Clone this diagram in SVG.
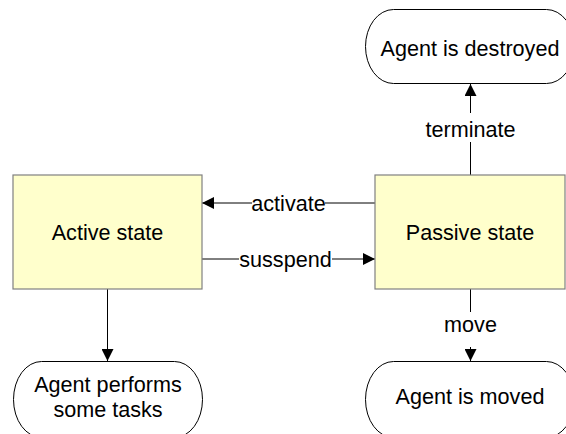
<svg xmlns="http://www.w3.org/2000/svg" width="566" height="434" viewBox="0 0 566 434">
  <style>
    text { font-family: "Liberation Sans", Arial, sans-serif; font-size: 21.6px; fill: #000; text-anchor: middle; }
    .state { fill: #FFFFCC; stroke: #808080; stroke-width: 1.2; }
    .term { fill: #fff; stroke: #000; stroke-width: 1; }
    .conn { stroke: #000; stroke-width: 1; fill: none; }
    .lblbg { fill: #fff; }
  </style>
  <defs>
    <marker id="arrow" viewBox="0 0 12 12" refX="12" refY="6" markerWidth="12" markerHeight="12" markerUnits="userSpaceOnUse" orient="auto">
      <path d="M0,0 L12,6 L0,12 Z" fill="#000"/>
    </marker>
  </defs>
  <rect width="566" height="434" fill="#fff"/>

  <g id="connectors">
    <line class="conn" x1="375" y1="203" x2="202" y2="203" marker-end="url(#arrow)"/>
    <line class="conn" x1="202" y1="259" x2="375" y2="259" marker-end="url(#arrow)"/>
    <line class="conn" x1="470.5" y1="175" x2="470.5" y2="84" marker-end="url(#arrow)"/>
    <line class="conn" x1="470.5" y1="289" x2="470.5" y2="361" marker-end="url(#arrow)"/>
    <line class="conn" x1="107.5" y1="289" x2="107.5" y2="361" marker-end="url(#arrow)"/>
    <rect class="lblbg" x="252" y="193" width="73" height="20"/>
    <text x="288.5" y="211">activate</text>
    <rect class="lblbg" x="239" y="249" width="93" height="21"/>
    <text x="285.5" y="267">susspend</text>
    <rect class="lblbg" x="423" y="113" width="95" height="29"/>
    <text x="470.5" y="136.5">terminate</text>
    <rect class="lblbg" x="440" y="312" width="61" height="35"/>
    <text x="470.5" y="331.5">move</text>
  </g>

  <g id="active-state">
    <rect class="state" x="13" y="175" width="189" height="114"/>
    <text x="107.5" y="240">Active state</text>
  </g>

  <g id="passive-state">
    <rect class="state" x="375" y="175" width="190" height="114"/>
    <text x="470" y="240">Passive state</text>
  </g>

  <g id="agent-destroyed">
    <rect class="term" x="365.5" y="9.5" width="209" height="74" rx="28" ry="37"/>
    <text x="470" y="56">Agent is destroyed</text>
  </g>

  <g id="agent-performs">
    <rect class="term" x="13.5" y="361.5" width="189" height="76" rx="28" ry="38"/>
    <text x="108" y="392">Agent performs</text>
    <text x="108" y="417">some tasks</text>
  </g>

  <g id="agent-moved">
    <rect class="term" x="365.5" y="361.5" width="209" height="76" rx="28" ry="38"/>
    <text x="470" y="404">Agent is moved</text>
  </g>
</svg>
